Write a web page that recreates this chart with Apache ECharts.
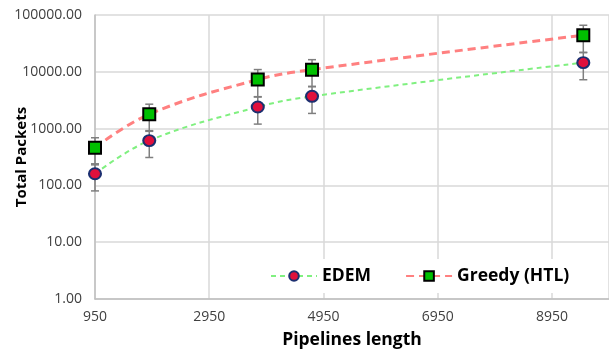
<!DOCTYPE html>
<html>
<head>
<meta charset="utf-8">
<script src="https://cdn.jsdelivr.net/npm/echarts@6/dist/echarts.min.js"></script>
<style>
  html, body { margin: 0; padding: 0; background: #fff; }
  #chart { width: 609px; height: 352px; }
</style>
</head>
<body>
<div id="chart"></div>
<script>
// pipeline lengths
const lengths = [950, 1900, 3800, 4750, 9500];

// total packets per algorithm
const edem = [160, 615, 2400, 3700, 14500];
const edemLow = [80, 310, 1200, 1850, 7250];
const edemHigh = [240, 920, 3600, 5550, 21750];

const greedy = [460, 1790, 7300, 10900, 44000];
const greedyLow = [230, 895, 3650, 5450, 22000];
const greedyHigh = [690, 2690, 10950, 16350, 66000];

const chart = echarts.init(document.getElementById("chart"), null, { renderer: "canvas" });

const pairs = (ys) => lengths.map((x, i) => [x, ys[i]]);
const bars = (lo, hi) => lengths.map((x, i) => [x, lo[i], hi[i]]);

const errorBar = (name, data) => ({
  name: name,
  type: "custom",
  z: 3,
  silent: true,
  data: data,
  renderItem: (params, api) => {
    const top = api.coord([api.value(0), api.value(2)]);
    const bot = api.coord([api.value(0), api.value(1)]);
    const w = 4;
    const style = { stroke: "#7f7f7f", lineWidth: 1.5 };
    return {
      type: "group",
      children: [
        { type: "line", shape: { x1: top[0], y1: top[1], x2: bot[0], y2: bot[1] }, style },
        { type: "line", shape: { x1: top[0] - w, y1: top[1], x2: top[0] + w, y2: top[1] }, style },
        { type: "line", shape: { x1: bot[0] - w, y1: bot[1], x2: bot[0] + w, y2: bot[1] }, style },
      ],
    };
  },
});

const titleFont = { fontFamily: "Open Sans", fontWeight: "bold", color: "#000" };

const option = {
  animation: false,
  grid: { left: 95, right: 0, top: 15, bottom: 53, containLabel: false, outerBoundsMode: "none" },
  legend: {
    data: ["EDEM", "Greedy (HTL)"],
    orient: "horizontal",
    left: 262,
    top: 259,
    width: 340,
    padding: [8, 10, 8, 8],
    backgroundColor: "#ffffff",
    itemWidth: 46,
    itemHeight: 12,
    itemGap: 34,
    z: 10,
    textStyle: { ...titleFont, fontSize: 17.5 },
  },
  xAxis: {
    type: "value",
    min: 950,
    max: 9950,
    interval: 2000,
    name: "Pipelines length",
    nameLocation: "middle",
    nameGap: 32,
    nameMoveOverlap: false,
    nameTextStyle: { ...titleFont, fontSize: 17.5 },
    axisLine: { show: true, lineStyle: { color: "#bfbfbf", width: 1.5 } },
    axisTick: { show: false },
    axisLabel: {
      showMaxLabel: false,
      margin: 11,
      fontFamily: "Open Sans",
      fontSize: 14,
      color: "#404040",
      formatter: (v) => String(v),
    },
    splitLine: { show: true, lineStyle: { color: "#d9d9d9", width: 1.5 } },
  },
  yAxis: {
    type: "log",
    logBase: 10,
    min: 1,
    max: 100000,
    name: "Total Packets",
    nameLocation: "middle",
    nameGap: 66,
    nameMoveOverlap: false,
    nameTextStyle: { ...titleFont, fontSize: 15 },
    axisLine: { show: true, lineStyle: { color: "#bfbfbf", width: 1.5 } },
    axisTick: { show: false },
    minorTick: { show: false },
    axisLabel: {
      margin: 13,
      fontFamily: "Open Sans",
      fontSize: 14,
      color: "#404040",
      formatter: (v) => v.toFixed(2),
    },
    splitLine: { show: true, lineStyle: { color: "#d9d9d9", width: 1.5 } },
  },
  series: [
    {
      name: "EDEM",
      type: "line",
      smooth: 0.4,
      z: 4,
      data: pairs(edem),
      lineStyle: { color: "#80f080", width: 2, type: [5, 4] },
      symbol: "circle",
      symbolSize: [12, 11],
      itemStyle: { color: "#e0103c", borderColor: "#1c2f70", borderWidth: 2 },
    },
    {
      name: "Greedy (HTL)",
      type: "line",
      smooth: 0.4,
      z: 4,
      data: pairs(greedy),
      lineStyle: { color: "#ff8080", width: 3, type: [8, 5] },
      symbol: "rect",
      symbolSize: 12,
      itemStyle: { color: "#00c000", borderColor: "#000000", borderWidth: 2 },
    },
    errorBar("EDEM err", bars(edemLow, edemHigh)),
    errorBar("Greedy err", bars(greedyLow, greedyHigh)),
  ],
};

chart.setOption(option);
</script>
</body>
</html>
